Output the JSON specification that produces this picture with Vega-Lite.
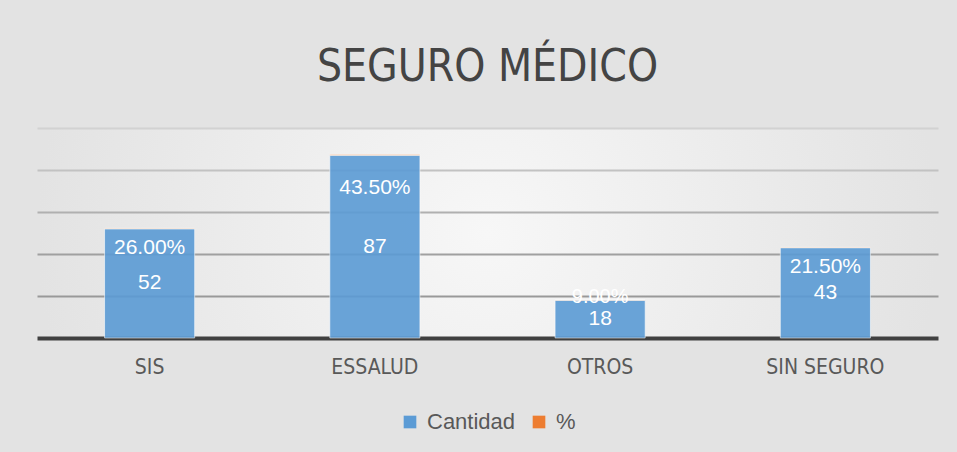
{
  "$schema": "https://vega.github.io/schema/vega-lite/v6.json",
  "width": 901,
  "height": 210,
  "autosize": {"type": "none"},
  "padding": {"left": 37, "top": 128, "right": 19, "bottom": 114},
  "background": "#e3e3e3",
  "config": {
    "view": {
      "stroke": null,
      "fill": {
        "gradient": "radial",
        "x1": 0.5, "y1": 0.5, "r1": 0,
        "x2": 0.5, "y2": 0.5, "r2": 0.5,
        "stops": [
          {"offset": 0, "color": "#f7f7f7"},
          {"offset": 1, "color": "#e3e3e3"}
        ]
      }
    },
    "font": "DejaVu Sans Condensed, sans-serif",
    "legend": {"layout": {"bottom": {"anchor": "middle"}}}
  },
  "title": {
    "text": "SEGURO MÉDICO",
    "font": "DejaVu Sans Condensed, sans-serif",
    "fontSize": 44,
    "fontWeight": "normal",
    "color": "#444444",
    "anchor": "middle",
    "offset": 38
  },
  "data": {
    "values": [
      {"categoria": "SIS", "Cantidad": 52, "%": 0.26},
      {"categoria": "ESSALUD", "Cantidad": 87, "%": 0.435},
      {"categoria": "OTROS", "Cantidad": 18, "%": 0.09},
      {"categoria": "SIN SEGURO", "Cantidad": 43, "%": 0.215}
    ]
  },
  "encoding": {
    "x": {
      "field": "categoria",
      "type": "nominal",
      "sort": null,
      "scale": {"paddingInner": 0.6, "paddingOuter": 0.3},
      "axis": {
        "title": null,
        "labelAngle": 0,
        "labelFontSize": 21,
        "labelColor": "#595959",
        "labelPadding": 18,
        "ticks": false,
        "domainColor": "#404040",
        "domainWidth": 4
      }
    }
  },
  "layer": [
    {
      "transform": [{"fold": ["Cantidad", "%"], "as": ["serie", "valor"]}],
      "mark": {"type": "bar", "opacity": 0.9, "stroke": "#ffffff", "strokeOpacity": 0.6, "strokeWidth": 1},
      "encoding": {
        "y": {
          "field": "valor",
          "type": "quantitative",
          "stack": "zero",
          "scale": {"domain": [0, 100]},
          "axis": {
            "title": null,
            "labels": false,
            "ticks": false,
            "domain": false,
            "values": [20, 40, 60, 80, 100],
            "gridWidth": 2,
            "gridColor": {
              "condition": [
                {"test": "datum.value >= 100", "value": "#d2d2d2"},
                {"test": "datum.value >= 80", "value": "#c2c2c2"},
                {"test": "datum.value >= 60", "value": "#b0b0b0"},
                {"test": "datum.value >= 40", "value": "#a0a0a0"}
              ],
              "value": "#999999"
            }
          }
        },
        "color": {
          "field": "serie",
          "type": "nominal",
          "scale": {"domain": ["Cantidad", "%"], "range": ["#5B9BD5", "#ED7D31"]},
          "legend": {
            "title": null,
            "orient": "bottom",
            "direction": "horizontal",
            "offset": 34,
            "symbolType": "square",
            "symbolSize": 160,
            "symbolStrokeWidth": 0,
            "symbolOpacity": 1,
            "labelFont": "Liberation Sans",
            "labelFontSize": 22,
            "labelColor": "#595959",
            "labelOffset": 6,
            "columnPadding": 12
          }
        },
        "order": {"field": "serie", "sort": "descending"}
      }
    },
    {
      "mark": {"type": "text", "color": "#ffffff", "font": "Liberation Sans", "fontSize": 21, "baseline": "middle"},
      "encoding": {
        "y": {"field": "Cantidad", "type": "quantitative", "stack": "zero", "bandPosition": 0.5},
        "text": {"field": "Cantidad", "type": "quantitative"}
      }
    },
    {
      "transform": [{"filter": {"field": "categoria", "oneOf": ["SIS", "SIN SEGURO"]}}],
      "mark": {"type": "text", "color": "#ffffff", "font": "Liberation Sans", "fontSize": 21, "baseline": "middle", "dy": 19},
      "encoding": {
        "y": {"field": "Cantidad", "type": "quantitative"},
        "text": {"field": "%", "type": "quantitative", "format": ".2%"}
      }
    },
    {
      "transform": [{"filter": {"field": "categoria", "equal": "ESSALUD"}}],
      "mark": {"type": "text", "color": "#ffffff", "font": "Liberation Sans", "fontSize": 21, "baseline": "middle", "dy": 33},
      "encoding": {
        "y": {"field": "Cantidad", "type": "quantitative"},
        "text": {"field": "%", "type": "quantitative", "format": ".2%"}
      }
    },
    {
      "transform": [{"filter": {"field": "categoria", "equal": "OTROS"}}],
      "mark": {"type": "text", "color": "#ffffff", "font": "Liberation Sans", "fontSize": 20, "baseline": "middle", "dy": -3},
      "encoding": {
        "y": {"field": "Cantidad", "type": "quantitative"},
        "text": {"field": "%", "type": "quantitative", "format": ".2%"}
      }
    }
  ]
}
